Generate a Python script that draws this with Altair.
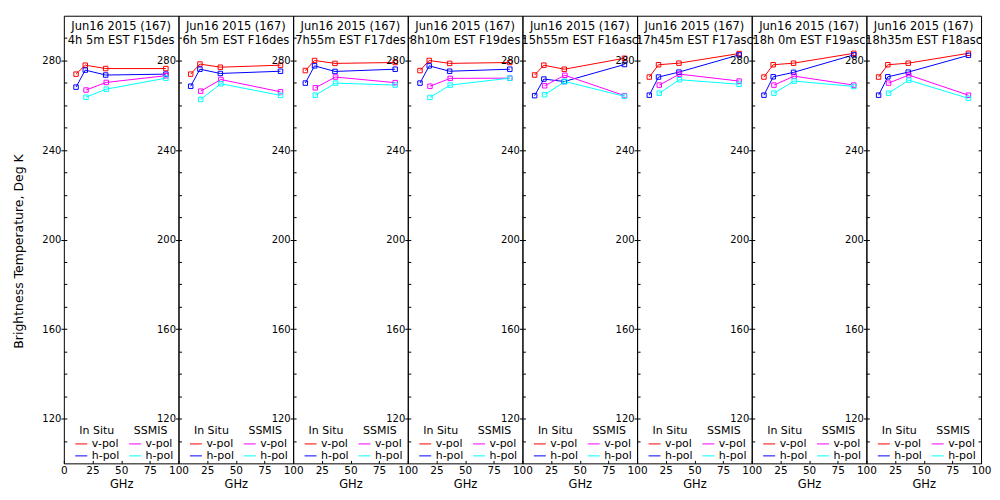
import altair as alt
import pandas as pd

# ---------------- data ----------------
date_line = "Jun16 2015 (167)"
time_lines = ["4h 5m EST F15des", "6h 5m EST F16des", "7h55m EST F17des", "8h10m EST F19des",
              "15h55m EST F16asc", "17h45m EST F17asc", "18h 0m EST F19asc", "18h35m EST F18asc"]

freq_insitu = [10.65, 18.7, 36.5, 89.0]
freq_ssmis = [19.35, 37.0, 89.0]

insitu_v = [
    [273.9, 277.9, 276.4, 276.4],
    [273.9, 278.4, 277.0, 277.9],
    [275.5, 280.0, 278.7, 279.1],
    [275.5, 280.0, 278.7, 279.1],
    [273.5, 277.9, 276.1, 281.0],
    [272.6, 278.1, 278.8, 283.1],
    [272.6, 278.1, 278.8, 283.2],
    [272.6, 278.1, 278.8, 283.2],
]
insitu_h = [
    [268.1, 275.7, 273.5, 273.9],
    [268.5, 276.1, 274.2, 275.2],
    [269.9, 277.6, 275.1, 276.1],
    [269.9, 277.6, 275.2, 276.1],
    [264.3, 271.7, 270.6, 278.2],
    [264.5, 272.6, 274.8, 282.5],
    [264.5, 272.7, 274.7, 282.5],
    [264.5, 272.7, 274.8, 282.3],
]
ssmis_v = [
    [266.8, 270.2, 273.2],
    [266.3, 271.5, 266.0],
    [267.8, 272.6, 270.1],
    [268.5, 272.0, 272.1],
    [268.7, 273.4, 264.3],
    [269.0, 273.9, 270.8],
    [269.0, 273.0, 269.0],
    [269.9, 273.5, 264.5],
]
ssmis_h = [
    [263.6, 267.2, 272.1],
    [262.6, 269.6, 264.4],
    [264.5, 269.9, 269.0],
    [263.5, 269.0, 272.1],
    [264.7, 270.6, 264.0],
    [265.4, 271.4, 269.4],
    [265.4, 270.8, 268.4],
    [265.4, 271.2, 263.1],
]

pol_labels = ["v-pol", "h-pol"]
insitu_keys = ["iv-pol", "ih-pol"]
ssmis_keys = ["sv-pol", "sh-pol"]
insitu_colors = ["#ff0000", "#0000ff"]
ssmis_colors = ["#ff00ff", "#00ffff"]

y_major = [120, 160, 200, 240, 280]
y_minor = [110, 120, 130, 140, 150, 160, 170, 180, 190, 200, 210, 220, 230, 240,
           250, 260, 270, 280, 290]
x_ticks_first = [0, 25, 50, 75, 100]
x_ticks_rest = [25, 50, 75, 100]
y_title = "Brightness Temperature, Deg K"
x_title = "GHz"

FONT = "DejaVu Sans"
W, H = 115, 449
N = len(time_lines)


def make_df(freqs, vlist, hlist, keys):
    rows = []
    for key, vals in zip(keys, [vlist, hlist]):
        for f, v in zip(freqs, vals):
            rows.append({"freq": f, "tb": v, "pol": key})
    return pd.DataFrame(rows)


def legend(title, x):
    return alt.Legend(title=title, orient="none", legendX=x, legendY=411,
                      symbolType="stroke", symbolSize=144, symbolStrokeWidth=1,
                      labelFontSize=11, titleFontSize=11, titleFontWeight="normal",
                      titleAnchor="middle", rowPadding=0, titlePadding=1,
                      labelOffset=4, padding=0,
                      labelExpr="substring(datum.label, 1)")


def panel(i):
    df_in = make_df(freq_insitu, insitu_v[i], insitu_h[i], insitu_keys)
    df_ss = make_df(freq_ssmis, ssmis_v[i], ssmis_h[i], ssmis_keys)

    xscale = alt.Scale(domain=[0, 100], nice=False, zero=False)
    yscale = alt.Scale(domain=[100, 300], nice=False, zero=False)

    xaxis = alt.Axis(values=x_ticks_first if i == 0 else x_ticks_rest,
                     tickSize=3, offset=-3, domain=False, grid=False,
                     labelPadding=2, labelFontSize=10.5, labelFlush=False,
                     labelOverlap=False,
                     title=x_title, titleFontSize=11.5, titleFontWeight="normal",
                     titlePadding=3)

    yaxis_major = alt.Axis(orient="left", values=y_major, tickSize=3, domain=False,
                           grid=False, labels=True, labelPadding=0, labelFontSize=10,
                           title=None)

    if i == N - 1:
        yaxis_right = alt.Axis(orient="right", values=y_minor, tickSize=3, offset=-3,
                               domain=False, grid=False, labels=False, title=None)
    else:
        yaxis_right = alt.Axis(orient="right", values=y_minor, tickSize=3,
                               domain=False, grid=False, labels=False, title=None)

    color_in = alt.Color("pol:N", scale=alt.Scale(domain=insitu_keys, range=insitu_colors),
                         legend=legend("In Situ", 11))
    color_ss = alt.Stroke("pol:N", scale=alt.Scale(domain=ssmis_keys, range=ssmis_colors),
                          legend=legend("SSMIS", 65))

    x_enc = alt.X("freq:Q", scale=xscale, axis=xaxis)
    y_enc = alt.Y("tb:Q", scale=yscale, axis=yaxis_major)

    in_line = alt.Chart(df_in).mark_line(strokeWidth=1).encode(
        x=x_enc, y=y_enc, color=color_in)
    in_pts = alt.Chart(df_in).mark_point(shape="square", filled=False, size=20,
                                         strokeWidth=1, opacity=1).encode(
        x=x_enc, y=y_enc, color=color_in)
    ss_line = alt.Chart(df_ss).mark_line(strokeWidth=1).encode(
        x=x_enc, y=y_enc, stroke=color_ss)
    ss_pts = alt.Chart(df_ss).mark_point(shape="square", filled=False, size=20,
                                         strokeWidth=1, opacity=1).encode(
        x=x_enc, y=y_enc, stroke=color_ss)

    main = alt.layer(in_line, ss_line, in_pts, ss_pts)

    right_layer = alt.Chart(df_in).mark_point(opacity=0).encode(
        x=x_enc,
        y=alt.Y("tb:Q", scale=yscale, axis=yaxis_right))
    layers = [main, right_layer]

    if i == 0:
        title_layer = alt.Chart(df_in).mark_point(opacity=0).encode(
            x=x_enc,
            y=alt.Y("tb:Q", scale=yscale,
                    axis=alt.Axis(orient="left", values=y_minor, labels=False,
                                  ticks=True, tickSize=3, offset=-3, domain=False,
                                  grid=False, title=y_title, titleFontSize=12.5,
                                  titleFontWeight="normal", titlePadding=38,
                                  titleY=236)))
        layers.append(title_layer)

    ch = alt.layer(*layers).resolve_scale(y="independent").properties(
        width=W, height=H,
        title=alt.Title([date_line, time_lines[i]], fontSize=11.5, fontWeight="normal",
                        font=FONT, anchor="middle", frame="group",
                        offset=-31, lineHeight=14, color="black"))
    return ch


panels = [panel(i) for i in range(N)]

chart = alt.hconcat(*panels, spacing=0, bounds="flush").resolve_scale(
    color="independent", stroke="independent"
).resolve_legend(
    color="independent", stroke="independent"
).configure(
    font=FONT, background="white", padding={"left": 4, "top": 6, "right": 0, "bottom": 4}
).configure_view(
    stroke="black", strokeWidth=1
).configure_axis(
    labelColor="black", titleColor="black", tickColor="black", labelFont=FONT,
    titleFont=FONT
).configure_legend(
    labelColor="black", titleColor="black", labelFont=FONT, titleFont=FONT
)

chart.save("out.html", embed_options={"renderer": "svg", "actions": False})
